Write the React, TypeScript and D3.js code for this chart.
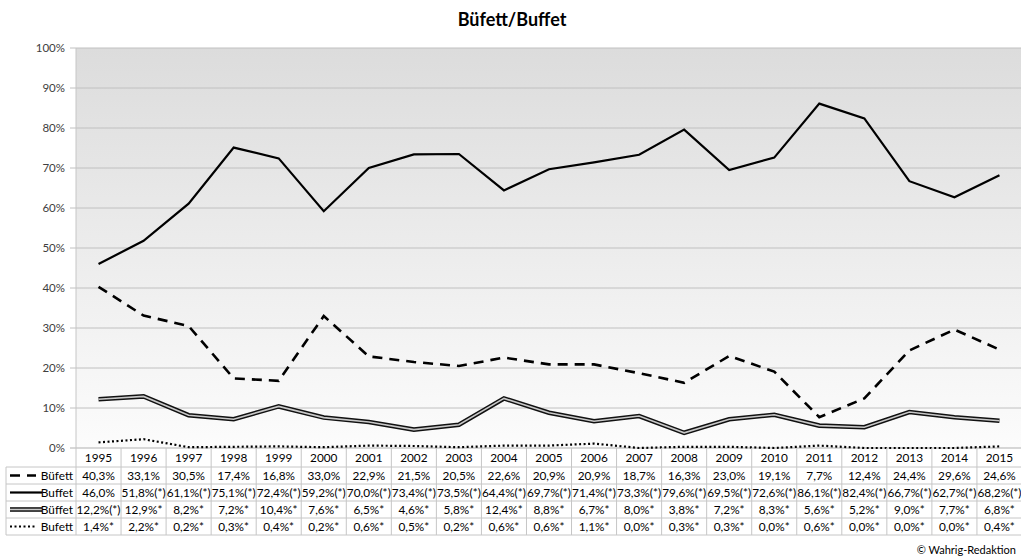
import React from "react";
import * as d3 from "d3";

const years = ["1995","1996","1997","1998","1999","2000","2001","2002","2003","2004","2005","2006","2007","2008","2009","2010","2011","2012","2013","2014","2015"];
const bufettDash = [40.3,33.1,30.5,17.4,16.8,33.0,22.9,21.5,20.5,22.6,20.9,20.9,18.7,16.3,23.0,19.1,7.7,12.4,24.4,29.6,24.6];
const buffetSolid = [46.0,51.8,61.1,75.1,72.4,59.2,70.0,73.4,73.5,64.4,69.7,71.4,73.3,79.6,69.5,72.6,86.1,82.4,66.7,62.7,68.2];
const bueffetDouble = [12.2,12.9,8.2,7.2,10.4,7.6,6.5,4.6,5.8,12.4,8.8,6.7,8.0,3.8,7.2,8.3,5.6,5.2,9.0,7.7,6.8];
const bufettDot = [1.4,2.2,0.2,0.3,0.4,0.2,0.6,0.5,0.2,0.6,0.6,1.1,0.0,0.3,0.3,0.0,0.6,0.0,0.0,0.0,0.4];
const suffixDash = years.map(() => "");
const suffixSolid = years.map((_, i) => (i === 0 ? "" : "(*)"));
const suffixDouble = years.map((_, i) => (i === 0 ? "(*)" : "*"));
const suffixDot = years.map(() => "*");
const yTicks = [0,10,20,30,40,50,60,70,80,90,100];
const seriesNames = ["Büfett","Buffet","Büffet","Bufett"];

const FONT = "Lato, 'Open Sans', sans-serif";

export default function App() {
  const W = 1021, H = 557;
  const left = 76, right = 1022, top = 48, bottom = 448;
  const x = d3.scaleBand<string>().domain(years).range([left, right]);
  const y = d3.scaleLinear().domain([0, 100]).range([bottom, top]);
  const cx = (yr: string) => (x(yr) as number) + x.bandwidth() / 2;
  const line = d3.line<number>().x((_, i) => cx(years[i])).y((v) => y(v)).curve(d3.curveLinear);

  const series = [
    { name: seriesNames[0], values: bufettDash, suffix: suffixDash, kind: "dash" },
    { name: seriesNames[1], values: buffetSolid, suffix: suffixSolid, kind: "solid" },
    { name: seriesNames[2], values: bueffetDouble, suffix: suffixDouble, kind: "double" },
    { name: seriesNames[3], values: bufettDot, suffix: suffixDot, kind: "dot" },
  ];

  const rowH = 17;
  const headerTop = bottom;
  const headerBottom = 467;
  const tableLeft = 6;
  const rowTop = (r: number) => headerBottom + r * rowH;
  const tableBottom = rowTop(4);
  const grid = "#c6c6c6";
  const fs = 11.8;

  const drawPath = (kind: string, d: string, key: string) => {
    if (kind === "dash") return <path key={key} d={d} fill="none" stroke="#000" strokeWidth={2.6} strokeDasharray="10,7" />;
    if (kind === "solid") return <path key={key} d={d} fill="none" stroke="#000" strokeWidth={2.2} />;
    if (kind === "double")
      return (
        <g key={key}>
          <path d={d} fill="none" stroke="#111" strokeWidth={4.6} />
          <path d={d} fill="none" stroke="#c8c8c8" strokeWidth={1.6} />
        </g>
      );
    return <path key={key} d={d} fill="none" stroke="#000" strokeWidth={2.2} strokeDasharray="2,2.5" />;
  };

  const fmt = (v: number) => v.toFixed(1).replace(".", ",") + "%";

  return (
    <svg width={W} height={H} style={{ display: "block", position: "absolute", left: 0, top: 0 }} fontFamily={FONT}>
      <defs>
        <linearGradient id="bg" x1="0" y1="0" x2="0" y2="1">
          <stop offset="0" stopColor="#dcdcdc" />
          <stop offset="1" stopColor="#fcfcfc" />
        </linearGradient>
      </defs>
      <rect x={0} y={0} width={W} height={H} fill="#fff" />
      <text x={512} y={26} textAnchor="middle" fontSize={18} fontWeight="bold" fill="#000">Büfett/Buffet</text>
      <rect x={left} y={top} width={right - left} height={bottom - top} fill="url(#bg)" />
      {yTicks.map((t) => (
        <g key={t}>
          <line x1={left - 6} x2={right} y1={y(t)} y2={y(t)} stroke={t === 0 ? "#b0b0b0" : "#c0c0c0"} strokeWidth={1} />
          <text x={65} y={y(t) + 4} textAnchor="end" fontSize={11.5} fill="#404040">{t}%</text>
        </g>
      ))}
      <line x1={left} x2={left} y1={top} y2={tableBottom} stroke={grid} />
      {series.map((s, i) => drawPath(s.kind, line(s.values) as string, "p" + i))}
      {years.map((yr, i) => (
        <g key={yr}>
          <line x1={(x(yr) as number) + x.bandwidth()} x2={(x(yr) as number) + x.bandwidth()} y1={headerTop} y2={tableBottom} stroke={grid} />
          <text x={cx(yr)} y={462} textAnchor="middle" fontSize={fs} fill="#000">{yr}</text>
          {series.map((s, r) => (
            <text key={r} x={cx(yr)} y={rowTop(r) + 12.8} textAnchor="middle" fontSize={fs} fill="#000">
              {fmt(s.values[i]) + s.suffix[i]}
            </text>
          ))}
        </g>
      ))}
      {[0, 1, 2, 3, 4].map((r) => (
        <line key={r} x1={tableLeft} x2={right} y1={rowTop(r)} y2={rowTop(r)} stroke={grid} />
      ))}
      <line x1={tableLeft} x2={tableLeft} y1={headerBottom} y2={tableBottom} stroke={grid} />
      {series.map((s, r) => {
        const yy = rowTop(r) + rowH / 2;
        const x2 = s.kind === "dash" || s.kind === "dot" ? 36 : 42;
        const d = `M10,${yy}L${x2},${yy}`;
        return (
          <g key={"leg" + r}>
            {drawPath(s.kind, d, "l" + r)}
            <text x={73} y={rowTop(r) + 12.8} textAnchor="end" fontSize={fs} fill="#000">{s.name}</text>
          </g>
        );
      })}
      <text x={1016} y={554} textAnchor="end" fontSize={11} fill="#000">© Wahrig-Redaktion</text>
    </svg>
  );
}
